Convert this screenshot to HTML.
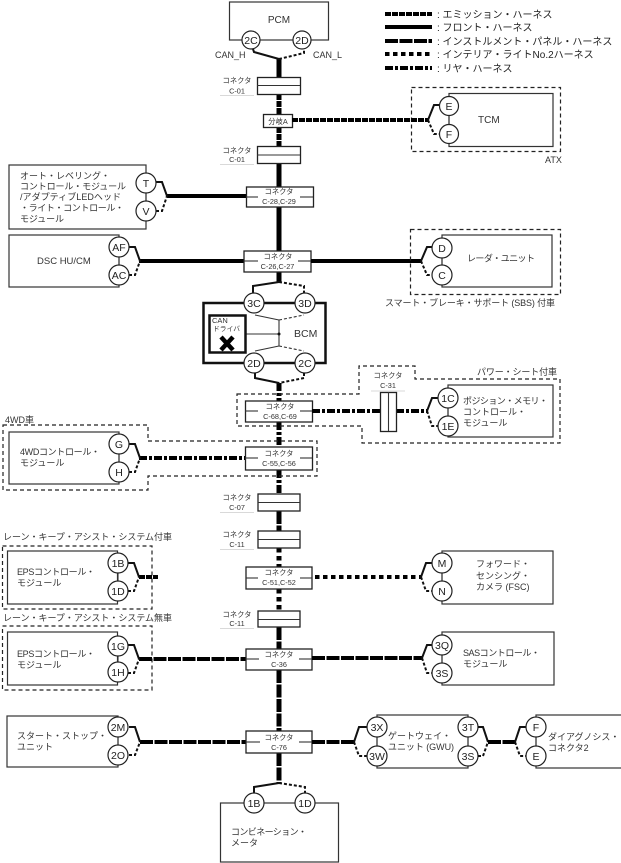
<!DOCTYPE html>
<html>
<head>
<meta charset="utf-8">
<style>
html,body{margin:0;padding:0;background:#fff}
svg{display:block;filter:blur(.3px)}
text{font-family:"Liberation Sans","Noto Sans CJK JP",sans-serif;fill:#333;font-size:9px}
.c{text-anchor:middle}
.n{font-size:10.5px;fill:#222}
.k{font-size:7.3px;text-anchor:middle;fill:#333}
.l{font-size:10px;fill:#222}
.box{fill:#fff;stroke:#333;stroke-width:1.2}
.dash{fill:none;stroke:#222;stroke-width:1.2;stroke-dasharray:4 3}
.cir{fill:#fff;stroke:#222;stroke-width:1.2}
.con{fill:#fff;stroke:#222;stroke-width:1.3}
.thin{stroke:#333;stroke-width:1.1;fill:none}
.pale{stroke:#ccc;stroke-width:.8}
.s{fill:none;stroke:#111;stroke-width:2}
.sd{fill:none;stroke:#111;stroke-width:2;stroke-dasharray:3 2}
.w{fill:none;stroke:#000;stroke-width:4}
.t{stroke-width:5}
.front{stroke-dasharray:none}
.emi{stroke-dasharray:6 1}
.pan{stroke-dasharray:13 1.5}
.int{stroke-dasharray:4.5 3.5}
.rear{stroke-dasharray:8 2 3 2}
</style>
</head>
<body>
<svg width="621" height="863" viewBox="0 0 621 863" xmlns="http://www.w3.org/2000/svg">

<!-- legend -->
<line x1="385" y1="14" x2="432" y2="14" class="w emi"/>
<line x1="385" y1="27" x2="432" y2="27" class="w front"/>
<line x1="385" y1="41" x2="432" y2="41" class="w pan"/>
<line x1="385" y1="54" x2="432" y2="54" class="w int"/>
<line x1="385" y1="68" x2="432" y2="68" class="w rear"/>
<text x="437" y="18" class="l">: エミッション・ハーネス</text>
<text x="437" y="31" class="l">: フロント・ハーネス</text>
<text x="437" y="45" class="l">: インストルメント・パネル・ハーネス</text>
<text x="437" y="58" class="l">: インテリア・ライトNo.2ハーネス</text>
<text x="437" y="72" class="l">: リヤ・ハーネス</text>

<!-- trunk -->
<line x1="279" y1="59" x2="279" y2="77" class="w t front"/>
<line x1="279" y1="94" x2="279" y2="114" class="w t emi"/>
<line x1="279" y1="127" x2="279" y2="146" class="w t emi"/>
<line x1="279" y1="163" x2="279" y2="187" class="w t front"/>
<line x1="279" y1="207" x2="279" y2="251" class="w t front"/>
<line x1="279" y1="272" x2="279" y2="283" class="w t front"/>
<line x1="279" y1="383" x2="279" y2="401" class="w t rear"/>
<line x1="279" y1="422" x2="279" y2="447" class="w t rear"/>
<line x1="279" y1="470" x2="279" y2="494" class="w t rear"/>
<line x1="279" y1="511" x2="279" y2="531" class="w t pan"/>
<line x1="279" y1="548" x2="279" y2="567" class="w t int"/>
<line x1="279" y1="589" x2="279" y2="611" class="w t int"/>
<line x1="279" y1="627" x2="279" y2="649" class="w t pan"/>
<line x1="279" y1="670" x2="279" y2="731" class="w t pan"/>
<line x1="279" y1="753" x2="279" y2="783" class="w t pan"/>

<!-- PCM -->
<rect x="229.500" y="2" width="99" height="38" class="box"/>
<text x="279" y="23" class="c" style="font-size:10px">PCM</text>
<polyline points="253,49 254,52 279,59" class="s"/>
<polyline points="279,59 304,53 304,49" class="sd"/>
<circle cx="251" cy="40" r="9" class="cir"/><text x="251" y="44" class="c n">2C</text>
<circle cx="302" cy="40" r="9" class="cir"/><text x="302" y="44" class="c n">2D</text>
<text x="215" y="58">CAN_H</text>
<text x="313" y="58">CAN_L</text>

<!-- C-01 -->
<rect x="257.500" y="77.500" width="43" height="17" class="con"/><line x1="257" y1="85.500" x2="300" y2="85.500" class="thin"/>
<text x="237" y="83" class="k">コネクタ</text><text x="237" y="93.500" class="k">C-01</text>
<line x1="220" y1="95.500" x2="254" y2="95.500" class="pale"/>

<rect x="263.500" y="114.500" width="29" height="13" class="con"/>
<text x="278" y="124" class="k">分岐A</text>

<rect x="257.500" y="146.500" width="43" height="17" class="con"/><line x1="257" y1="155" x2="300" y2="155" class="thin"/>
<text x="237" y="153" class="k">コネクタ</text><text x="237" y="162" class="k">C-01</text>
<line x1="220" y1="164.500" x2="254" y2="164.500" class="pale"/>

<!-- TCM -->
<rect x="411.500" y="87.500" width="149" height="64" class="dash"/>
<rect x="449" y="93.500" width="104" height="53" class="box"/>
<line x1="292" y1="120" x2="428" y2="120" class="w emi"/>
<polyline points="428,120 434,105 441,105" class="s"/>
<polyline points="428,120 434,134 441,134" class="sd"/>
<line x1="449" y1="106" x2="449" y2="134" class="thin"/>
<circle cx="449" cy="106" r="9.500" class="cir"/><text x="449" y="110" class="c n">E</text>
<circle cx="449" cy="134" r="9.500" class="cir"/><text x="449" y="138" class="c n">F</text>
<text x="478" y="123" style="font-size:10px">TCM</text>
<text x="545" y="163" style="font-size:9px">ATX</text>

<!-- T/V module -->
<rect x="9" y="165" width="137" height="64" class="box"/>
<line x1="167" y1="196" x2="246" y2="196" class="w front"/>
<polyline points="156,182 162,182 167,196" class="s"/>
<polyline points="156,211 162,211 167,196" class="sd"/>
<line x1="146" y1="183" x2="146" y2="211" class="thin"/>
<circle cx="146" cy="183" r="10" class="cir"/><text x="146" y="187" class="c n">T</text>
<circle cx="146" cy="211" r="10" class="cir"/><text x="146" y="215" class="c n">V</text>
<text x="20" y="179" textLength="90">オート・レベリング・</text>
<text x="20" y="189.500" textLength="106">コントロール・モジュール</text>
<text x="20" y="200" textLength="101">/アダプティブLEDヘッド</text>
<text x="20" y="211" textLength="104">・ライト・コントロール・</text>
<text x="20" y="222" textLength="44">モジュール</text>

<rect x="246.500" y="187" width="67" height="20" class="con"/>
<line x1="246" y1="197" x2="258" y2="197" class="thin"/><line x1="300" y1="197" x2="313" y2="197" class="thin"/>
<text x="279" y="194" class="k">コネクタ</text><text x="279" y="204" class="k">C-28,C-29</text>

<!-- DSC -->
<rect x="9" y="235" width="110" height="52" class="box"/>
<line x1="139" y1="261" x2="244" y2="261" class="w front"/>
<polyline points="129,247 135,247 140,261" class="s"/>
<polyline points="129,275 135,275 140,261" class="sd"/>
<line x1="119" y1="247" x2="119" y2="275" class="thin"/>
<circle cx="119" cy="247" r="10" class="cir"/><text x="119" y="251" class="c n">AF</text>
<circle cx="119" cy="275" r="10" class="cir"/><text x="119" y="279" class="c n">AC</text>
<text x="37" y="264" style="font-size:9.500px">DSC HU/CM</text>

<rect x="244" y="251" width="67" height="21" class="con"/>
<line x1="244" y1="261" x2="258" y2="261" class="thin"/><line x1="298" y1="261" x2="311" y2="261" class="thin"/>
<text x="278" y="259" class="k">コネクタ</text><text x="277.500" y="269" class="k">C-26,C-27</text>

<!-- Radar -->
<line x1="311" y1="261" x2="421" y2="261" class="w front"/>
<rect x="410.500" y="229.500" width="150" height="65" class="dash"/>
<rect x="442" y="235" width="110" height="52" class="box"/>
<polyline points="421,261 427,247 434,247" class="s"/>
<polyline points="421,261 427,275 434,275" class="sd"/>
<line x1="442" y1="248" x2="442" y2="275" class="thin"/>
<circle cx="442" cy="248" r="10" class="cir"/><text x="442" y="252" class="c n">D</text>
<circle cx="442" cy="275" r="10" class="cir"/><text x="442" y="279" class="c n">C</text>
<text x="467" y="261.500" textLength="68">レーダ・ユニット</text>
<text x="385" y="306" textLength="170">スマート・ブレーキ・サポート (SBS) 付車</text>

<!-- BCM -->
<polyline points="279,282 253,286 253,294" class="s"/>
<polyline points="279,282 304,286 304,294" class="sd"/>
<rect x="203.500" y="303" width="122" height="60" fill="#fff" stroke="#111" stroke-width="2.500"/>
<line x1="279" y1="320" x2="279" y2="346" class="thin"/>
<polyline points="255,315 279,320" class="thin"/>
<polyline points="279,320 304,315" class="thin" stroke-dasharray="3 2"/>
<polyline points="255,351 279,346" class="thin"/>
<polyline points="279,346 304,351" class="thin" stroke-dasharray="3 2"/>
<line x1="246" y1="334" x2="279" y2="334" class="thin"/>
<circle cx="279" cy="334" r="1.500" fill="#111"/>
<rect x="209.500" y="315.500" width="36" height="37" fill="#fff" stroke="#111" stroke-width="2.500"/>
<text x="212" y="323" style="font-size:7.500px">CAN</text>
<text x="213" y="331" style="font-size:6.800px">ドライバ</text>
<path d="M221,337 L233,350 M233,337 L221,350" stroke="#000" stroke-width="4.500" fill="none"/>
<circle cx="254" cy="303" r="10" class="cir"/><text x="254" y="307" class="c n">3C</text>
<circle cx="305" cy="303" r="10" class="cir"/><text x="305" y="307" class="c n">3D</text>
<circle cx="254" cy="363" r="10" class="cir"/><text x="254" y="367" class="c n">2D</text>
<circle cx="305" cy="363" r="10" class="cir"/><text x="305" y="367" class="c n">2C</text>
<text x="294" y="337" style="font-size:10.500px">BCM</text>
<polyline points="255,373 255,378 279,383" class="s"/>
<polyline points="304,373 304,378 279,383" class="sd"/>

<!-- C-68 -->
<polygon points="237,394 359,394 359,366 415,366 415,379 560,379 560,443 362,443 362,426 237,426" class="dash"/>
<rect x="245.500" y="401" width="67" height="21" class="con"/>
<line x1="245" y1="411" x2="258" y2="411" class="thin"/><line x1="300" y1="411" x2="312" y2="411" class="thin"/>
<text x="280" y="409" class="k">コネクタ</text><text x="280" y="419" class="k">C-68,C-69</text>
<line x1="312" y1="411" x2="380" y2="411" class="w rear"/>
<line x1="396" y1="411" x2="427" y2="411" class="w rear"/>
<rect x="380.500" y="392.500" width="16" height="39" class="con"/><line x1="388.500" y1="392" x2="388.500" y2="431" class="thin"/>
<text x="388" y="378" class="k">コネクタ</text><text x="388" y="388" class="k">C-31</text>
<line x1="371" y1="391" x2="405" y2="391" class="pale"/>
<rect x="448" y="385" width="105" height="52" class="box"/>
<polyline points="427,411 432,398 439,398" class="s"/>
<polyline points="427,411 432,426 439,426" class="sd"/>
<line x1="448" y1="398" x2="448" y2="426" class="thin"/>
<circle cx="448" cy="398" r="10" class="cir"/><text x="448" y="402" class="c n">1C</text>
<circle cx="448" cy="426" r="10" class="cir"/><text x="448" y="430" class="c n">1E</text>
<text x="463" y="404" textLength="85">ポジション・メモリ・</text>
<text x="463" y="415">コントロール・</text>
<text x="463" y="426">モジュール</text>
<text x="477" y="375" textLength="80">パワー・シート付車</text>

<!-- 4WD -->
<text x="5" y="423">4WD車</text>
<polygon points="3,425 148,425 148,441 317,441 317,476 148,476 148,490 3,490" class="dash"/>
<rect x="9" y="432" width="110" height="52" class="box"/>
<line x1="139" y1="458" x2="245" y2="458" class="w rear"/>
<polyline points="129,444 135,444 140,458" class="s"/>
<polyline points="129,472 135,472 140,458" class="sd"/>
<line x1="119" y1="444" x2="119" y2="472" class="thin"/>
<circle cx="119" cy="444" r="10" class="cir"/><text x="119" y="448" class="c n">G</text>
<circle cx="119" cy="472" r="10" class="cir"/><text x="119" y="476" class="c n">H</text>
<text x="20" y="455" textLength="80">4WDコントロール・</text>
<text x="20" y="466">モジュール</text>
<rect x="245.500" y="447" width="67" height="23" class="con"/>
<line x1="245" y1="458" x2="258" y2="458" class="thin"/><line x1="300" y1="458" x2="312" y2="458" class="thin"/>
<text x="279" y="456" class="k">コネクタ</text><text x="279" y="466" class="k">C-55,C-56</text>

<!-- C-07 / C-11 -->
<rect x="258" y="494" width="42" height="17" class="con"/><line x1="258" y1="502.500" x2="300" y2="502.500" class="thin"/>
<text x="237" y="500" class="k">コネクタ</text><text x="237" y="510" class="k">C-07</text>
<line x1="220" y1="512.500" x2="254" y2="512.500" class="pale"/>
<rect x="258" y="531" width="42" height="17" class="con"/><line x1="258" y1="539.500" x2="300" y2="539.500" class="thin"/>
<text x="237" y="537" class="k">コネクタ</text><text x="237" y="547" class="k">C-11</text>
<line x1="220" y1="549.500" x2="254" y2="549.500" class="pale"/>

<!-- EPS with LKA -->
<text x="3" y="540" textLength="169">レーン・キープ・アシスト・システム付車</text>
<rect x="2.500" y="546" width="149.500" height="63" class="dash"/>
<rect x="7.500" y="551" width="110" height="53" class="box"/>
<line x1="139" y1="577" x2="158" y2="577" class="w emi"/>
<polyline points="128,563 134,563 139,577" class="s"/>
<polyline points="128,591 134,591 139,577" class="sd"/>
<line x1="118" y1="563" x2="118" y2="591" class="thin"/>
<circle cx="118" cy="563" r="10" class="cir"/><text x="118" y="567" class="c n">1B</text>
<circle cx="118" cy="591" r="10" class="cir"/><text x="118" y="595" class="c n">1D</text>
<text x="17" y="575" textLength="78">EPSコントロール・</text>
<text x="17" y="586">モジュール</text>

<!-- C-51 -->
<rect x="246" y="567" width="66" height="22" class="con"/>
<line x1="246" y1="578" x2="258" y2="578" class="thin"/><line x1="300" y1="578" x2="312" y2="578" class="thin"/>
<text x="279" y="575" class="k">コネクタ</text><text x="279" y="585" class="k">C-51,C-52</text>
<line x1="315" y1="577" x2="421" y2="577" class="w int"/>
<rect x="442" y="551" width="111" height="53" class="box"/>
<polyline points="421,577 426,563 433,563" class="s"/>
<polyline points="421,577 426,591 433,591" class="sd"/>
<line x1="442" y1="563" x2="442" y2="591" class="thin"/>
<circle cx="442" cy="563" r="10" class="cir"/><text x="442" y="567" class="c n">M</text>
<circle cx="442" cy="591" r="10" class="cir"/><text x="442" y="595" class="c n">N</text>
<text x="476" y="567">フォワード・</text>
<text x="476" y="579">センシング・</text>
<text x="476" y="590">カメラ (FSC)</text>

<!-- C-11 second -->
<rect x="258" y="611" width="42" height="16" class="con"/><line x1="258" y1="619.500" x2="300" y2="619.500" class="thin"/>
<text x="237" y="617" class="k">コネクタ</text><text x="237" y="626" class="k">C-11</text>
<line x1="220" y1="628.500" x2="254" y2="628.500" class="pale"/>

<!-- EPS without LKA -->
<text x="3" y="621" textLength="169">レーン・キープ・アシスト・システム無車</text>
<rect x="2.500" y="626" width="149.500" height="64" class="dash"/>
<rect x="7.500" y="632" width="110" height="53" class="box"/>
<line x1="139" y1="659" x2="246" y2="659" class="w pan"/>
<polyline points="128,645 134,645 139,659" class="s"/>
<polyline points="128,673 134,673 139,659" class="sd"/>
<line x1="118" y1="646" x2="118" y2="672" class="thin"/>
<circle cx="118" cy="646" r="10" class="cir"/><text x="118" y="650" class="c n">1G</text>
<circle cx="118" cy="672" r="10" class="cir"/><text x="118" y="676" class="c n">1H</text>
<text x="17" y="657" textLength="78">EPSコントロール・</text>
<text x="17" y="668">モジュール</text>

<!-- C-36 -->
<rect x="246" y="649" width="66" height="21" class="con"/>
<line x1="246" y1="659" x2="259" y2="659" class="thin"/><line x1="299" y1="659" x2="312" y2="659" class="thin"/>
<text x="279" y="657" class="k">コネクタ</text><text x="279" y="667" class="k">C-36</text>
<line x1="312" y1="658" x2="422" y2="658" class="w pan"/>
<rect x="442" y="632" width="112" height="53" class="box"/>
<polyline points="422,658 427,645 433,645" class="s"/>
<polyline points="422,658 427,673 433,673" class="sd"/>
<line x1="442" y1="645" x2="442" y2="673" class="thin"/>
<circle cx="442" cy="645" r="10" class="cir"/><text x="442" y="649" class="c n">3Q</text>
<circle cx="442" cy="673" r="10" class="cir"/><text x="442" y="677" class="c n">3S</text>
<text x="463" y="656" textLength="77">SASコントロール・</text>
<text x="463" y="667">モジュール</text>

<!-- Start stop -->
<rect x="7" y="716" width="111" height="51" class="box"/>
<line x1="140" y1="742" x2="246" y2="742" class="w pan"/>
<polyline points="129,727 135,727 140,742" class="s"/>
<polyline points="129,755 135,755 140,742" class="sd"/>
<line x1="118" y1="727" x2="118" y2="755" class="thin"/>
<circle cx="118" cy="727" r="10" class="cir"/><text x="118" y="731" class="c n">2M</text>
<circle cx="118" cy="755" r="10" class="cir"/><text x="118" y="759" class="c n">2O</text>
<text x="17" y="739">スタート・ストップ・</text>
<text x="17" y="750">ユニット</text>

<!-- C-76 -->
<rect x="246" y="731" width="66" height="22" class="con"/>
<line x1="246" y1="742" x2="260" y2="742" class="thin"/><line x1="299" y1="742" x2="312" y2="742" class="thin"/>
<text x="279" y="740" class="k">コネクタ</text><text x="279" y="750" class="k">C-76</text>
<line x1="312" y1="742" x2="354" y2="742" class="w pan"/>

<!-- GWU -->
<rect x="377" y="715" width="91" height="53" class="box"/>
<polyline points="354,742 359,727 368,727" class="s"/>
<polyline points="354,742 359,756 368,756" class="sd"/>
<line x1="377" y1="727" x2="377" y2="756" class="thin"/>
<line x1="468" y1="727" x2="468" y2="756" class="thin"/>
<circle cx="377" cy="727" r="10" class="cir"/><text x="377" y="731" class="c n">3X</text>
<circle cx="377" cy="756" r="10" class="cir"/><text x="377" y="760" class="c n">3W</text>
<circle cx="468" cy="727" r="10" class="cir"/><text x="468" y="731" class="c n">3T</text>
<circle cx="468" cy="756" r="10" class="cir"/><text x="468" y="760" class="c n">3S</text>
<text x="388" y="739">ゲートウェイ・</text>
<text x="388" y="750" textLength="66">ユニット (GWU)</text>
<polyline points="478,727 483,727 488,742" class="s"/>
<polyline points="478,756 483,756 488,742" class="sd"/>
<line x1="488" y1="742" x2="515" y2="742" class="w pan"/>

<!-- Diag -->
<rect x="536" y="715" width="90" height="53" class="box"/>
<polyline points="515,742 520,727 527,727" class="s"/>
<polyline points="515,742 520,756 527,756" class="sd"/>
<line x1="536" y1="727" x2="536" y2="756" class="thin"/>
<circle cx="536" cy="727" r="10" class="cir"/><text x="536" y="731" class="c n">F</text>
<circle cx="536" cy="756" r="10" class="cir"/><text x="536" y="760" class="c n">E</text>
<text x="548" y="740">ダイアグノシス・</text>
<text x="548" y="751">コネクタ2</text>

<!-- Meter -->
<polyline points="279,783 254,787 254,794" class="s"/>
<polyline points="279,783 305,787 305,794" class="sd"/>
<rect x="220.500" y="803" width="118" height="59" class="box"/>
<circle cx="254" cy="803" r="10" class="cir"/><text x="254" y="807" class="c n">1B</text>
<circle cx="305" cy="803" r="10" class="cir"/><text x="305" y="807" class="c n">1D</text>
<text x="231" y="835" textLength="76">コンビネーション・</text>
<text x="231" y="846">メータ</text>
</svg>
</body>
</html>
